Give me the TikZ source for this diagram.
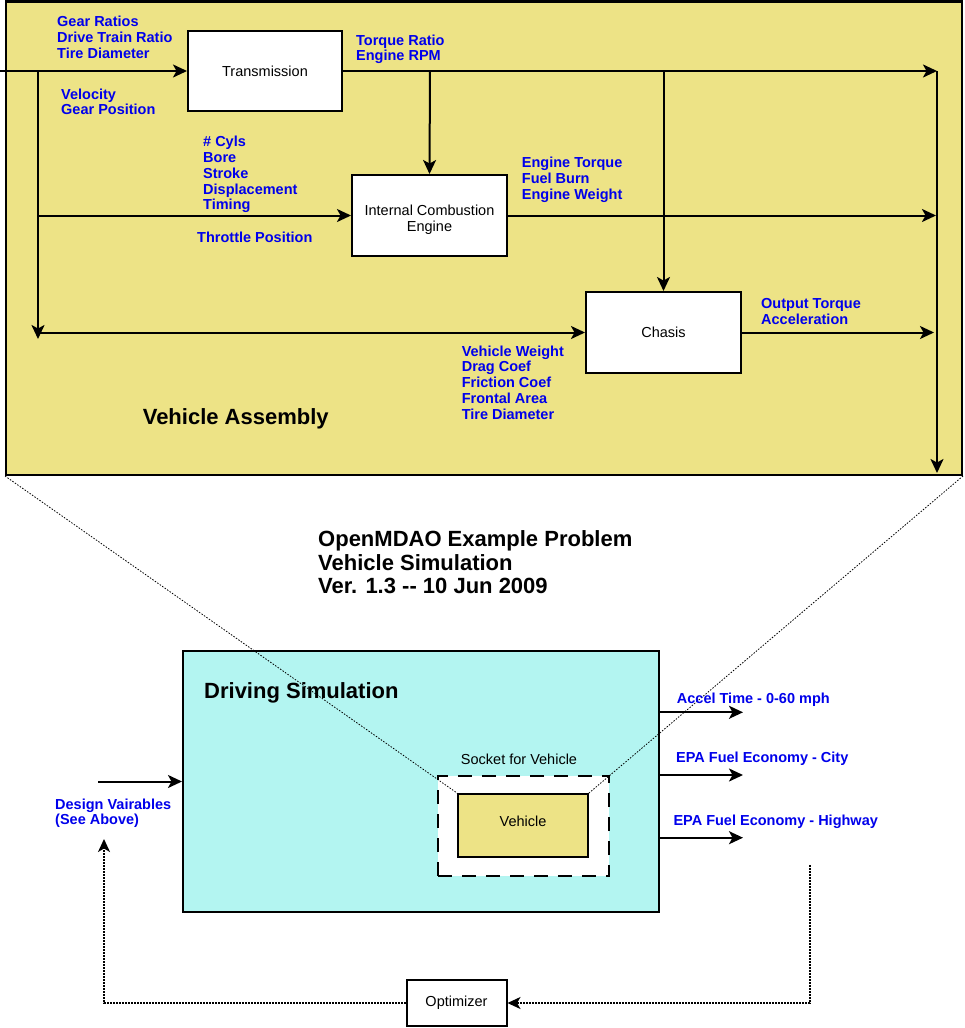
\documentclass[tikz,border=0pt]{standalone}
\usepackage{fontspec}
\setmainfont{Liberation Sans}
\usetikzlibrary{arrows.meta}
\definecolor{asmyellow}{HTML}{EDE386}
\definecolor{simcyan}{HTML}{B3F5F1}
\definecolor{lblblue}{RGB}{0,0,235}
\begin{document}
\begin{tikzpicture}[x=1pt,y=-1pt,
  lbl/.style={text=lblblue, font=\bfseries\fontsize{14.5}{15.8}\selectfont, align=left, anchor=north west, inner sep=0pt},
  blk/.style={draw=black, line width=2pt, fill=white, font=\fontsize{14.5}{16}\selectfont, align=center, inner sep=0pt},
  conn/.style={line width=2pt, -{Stealth[length=14pt,width=13pt,inset=3.5pt]}},
  loopline/.style={line width=1.7pt, dash pattern=on 1.6pt off 1.4pt},
  zoomline/.style={line width=0.8pt, dash pattern=on 1.5pt off 1.5pt},
  title/.style={font=\bfseries\fontsize{22}{23.5}\selectfont, align=left, anchor=north west, inner sep=0pt}]
\useasboundingbox (0,0) rectangle (964,1028);
\fill[white] (0,0) rectangle (964,1028);

% ---------- Vehicle assembly ----------
\node[draw, line width=2pt, fill=asmyellow, minimum width=956pt, minimum height=473pt, anchor=north west, inner sep=0pt] (asm) at (5,1) {};
\draw[line width=3pt] (asm.north west) -- (asm.north east);

\node[blk, minimum width=154pt, minimum height=80pt] (trans) at (265,71) {Transmission};
\node[blk, minimum width=155pt, minimum height=81pt] (ice) at (429.5,215.5) {};
\node[font=\fontsize{14.5}{15.6}\selectfont, align=center, inner sep=0pt] (icetxt) at (429.5,219.5) {Internal Combustion\\Engine};
\node[blk, minimum width=155pt, minimum height=81pt] (chasis) at (663.5,332.5) {Chasis};

\coordinate (in0) at (0,71);
\coordinate (j1) at (38,71);
\coordinate (j1end) at (38,339);
\coordinate (j2) at (38,215.5);
\coordinate (j3) at (38,332.5);
\coordinate (t1) at (430,71);
\coordinate (t2) at (663.5,71);
\coordinate (out1) at (937,71);
\coordinate (out2) at (936,215.5);
\coordinate (out3) at (934,332.5);
\coordinate (outbus) at (937,473);

\draw[conn] (in0) -- (trans.west);
\draw[conn] (j1) -- (j1end);
\draw[conn] (j2) -- (ice.west);
\draw[conn] (j3) -- (chasis.west);
\draw[conn] (trans.east) -- (out1);
\draw[conn] (t1) -- (ice.north);
\draw[conn] (t2) -- (chasis.north);
\draw[conn] (ice.east) -- (out2);
\draw[conn] (chasis.east) -- (out3);
\draw[conn] (out1) -- (outbus);

\node[lbl] (lgear) at (57,16) {Gear Ratios\\Drive Train Ratio\\Tire Diameter};
\node[lbl] (lvel) at (61,88.3) {Velocity\\Gear Position};
\node[lbl] (ltorq) at (356,34.3) {Torque Ratio\\Engine RPM};
\node[lbl] (lcyl) at (203,136) {\# Cyls\\Bore\\Stroke\\Displacement\\Timing};
\node[lbl] (lthr) at (197,231.7) {Throttle Position};
\node[lbl] (leng) at (521.7,156.7) {Engine Torque\\Fuel Burn\\Engine Weight};
\node[lbl] (lout) at (761,298.3) {Output Torque\\Acceleration};
\node[lbl] (lveh) at (461.6,345.3) {Vehicle Weight\\Drag Coef\\Friction Coef\\Frontal Area\\Tire Diameter};
\node[font=\bfseries\fontsize{22}{24}\selectfont, anchor=north west, inner sep=0pt] (asmtitle) at (142.6,408.7) {Vehicle Assembly};

% ---------- title ----------
\node[title] (maintitle) at (318,530.7) {OpenMDAO Example Problem\\Vehicle Simulation\\Ver. 1.3 -{}- 10 Jun 2009};

% ---------- driving simulation ----------
\node[draw, line width=2pt, fill=simcyan, minimum width=476pt, minimum height=261pt, inner sep=0pt] (drv) at (421,781.5) {};
\node[font=\bfseries\fontsize{22}{24}\selectfont, anchor=north west, inner sep=0pt] (drvtitle) at (204,682.7) {Driving Simulation};
\node[draw, line width=2.5pt, dash pattern=on 14pt off 10pt, fill=white, minimum width=171pt, minimum height=100pt, inner sep=0pt] (socket) at (523.5,826) {};
\node[font=\fontsize{14.5}{16}\selectfont, anchor=north, inner sep=0pt] (sockettxt) at (519,753.3) {Socket for Vehicle};
\node[blk, fill=asmyellow, minimum width=130pt, minimum height=63pt] (vehicle) at (523,825.5) {};
\node[font=\fontsize{14.5}{16}\selectfont, inner sep=0pt] (vehtxt) at (523,821) {Vehicle};

% zoom lines
\draw[zoomline] (asm.south west) -- (vehicle.north west);
\draw[zoomline] (asm.south east) -- (vehicle.north east);

% inputs / outputs
\coordinate (din) at (98,781.5);
\draw[conn] (din) -- (drv.west);
\coordinate (o1) at (743,712.3);
\coordinate (o2) at (743,775);
\coordinate (o3) at (743,837.7);
\draw[conn] (drv.east |- o1) -- (o1);
\draw[conn] (drv.east |- o2) -- (o2);
\draw[conn] (drv.east |- o3) -- (o3);

\node[lbl] (lacc) at (676.7,692.3) {Accel Time - 0-60 mph};
\node[lbl] (lcity) at (676,751.7) {EPA Fuel Economy - City};
\node[lbl] (lhwy) at (673.3,815) {EPA Fuel Economy - Highway};
\node[lbl] (ldes) at (55,798.3) {Design Vairables\\(See Above)};

% optimizer loop
\node[blk, minimum width=100pt, minimum height=46pt] (opt) at (456.5,1003) {Optimizer};
\coordinate (lp1) at (810,865);
\coordinate (lp2) at (104,839);
\draw[loopline, -{Stealth[length=13pt,width=12pt,inset=3.5pt]}] (lp1) |- (opt.east);
\draw[loopline, -{Stealth[length=13pt,width=12pt,inset=3.5pt]}] (opt.west) -| (lp2);
\end{tikzpicture}
\end{document}
